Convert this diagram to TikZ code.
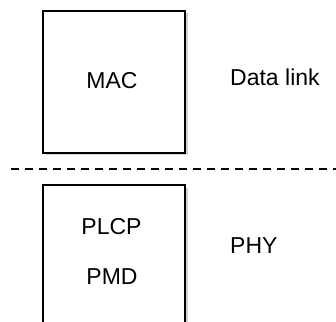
\documentclass[tikz,border=0pt]{standalone}
\usepackage{fontspec}
\setmainfont{Liberation Sans}
\usetikzlibrary{shadows}

\begin{document}
\begin{tikzpicture}[x=1pt, y=1pt,
    layerbox/.style={draw, line width=1.5pt, fill=white, inner sep=0pt,
      minimum width=142pt, minimum height=142pt,
      drop shadow={shadow xshift=2.5pt, shadow yshift=-2.5pt, fill=black!35}},
    lbl/.style={font=\fontsize{23}{27}\selectfont, inner sep=0pt}]
  \useasboundingbox (0,0) rectangle (336,321);
  % Box MAC
  \node[layerbox] (mac) at (114,239) {};
  \node[lbl, anchor=base] (mactxt) at (112,232) {MAC};
  % Box PHY (runs off the bottom)
  \node[layerbox] (phy) at (114,65) {};
  \node[lbl, anchor=base] (plcp) at (111.5,87) {PLCP};
  \node[lbl, anchor=base] (pmd) at (112,37) {PMD};
  % layer boundary
  \coordinate (sepl) at (11,152);
  \coordinate (sepr) at (336,152);
  \draw[line width=1.3pt, dash pattern=on 7.5pt off 6.5pt] (sepl) -- (sepr);
  % layer names
  \node[lbl, anchor=base west] (datalink) at (230,235) {Data link};
  \node[lbl, anchor=base west] (phyname) at (230,68) {PHY};
\end{tikzpicture}
\end{document}
